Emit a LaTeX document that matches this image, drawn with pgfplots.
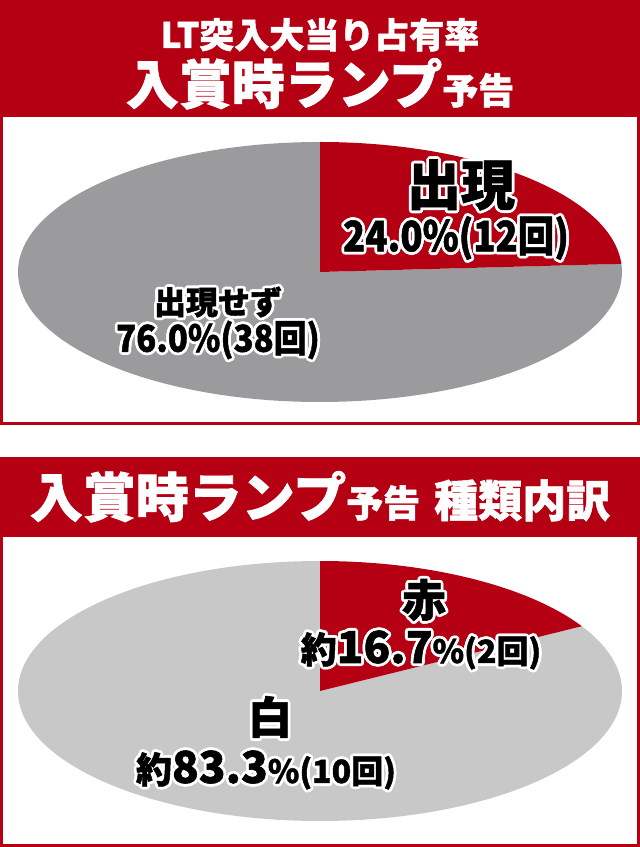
\documentclass[border=0pt]{standalone}
\usepackage{pgfplots}
\pgfplotsset{compat=1.18}
\usepackage{pgfplotstable}
\usepackage{fontspec}
\setmainfont{Noto Sans CJK JP}[BoldFeatures={FakeBold=1.3}]

\definecolor{crimson}{HTML}{B50014}
\definecolor{piegray}{HTML}{9B9B9D}
\definecolor{pielight}{HTML}{C8C8C8}

% share of each slice, in percent
\pgfplotstableread{
slice value
hit   24.0
miss  76.0
}\toppie
\pgfplotstableread{
slice value
red   16.7
white 83.3
}\botpie

% black text with a white outline
\newcommand{\olabel}[2]{%
  \foreach \a in {0,30,...,330}{\node[white,inner sep=0] at ([shift={(\a:2.8pt)}]#1) {#2};}
  \node[black,inner sep=0] at (#1) {#2};}
\newcommand{\fs}[1]{\fontsize{#1}{#1}\selectfont}

\begin{document}
\begin{tikzpicture}[x=1pt,y=1pt]
\useasboundingbox (0,0) rectangle (640,847);

% panels
\fill[crimson] (0,730) rectangle (640,847);
\draw[crimson, line width=3pt] (1.5,423) rectangle (638.5,731);
\fill[crimson] (0,310) rectangle (640,390);
\draw[crimson, line width=3pt] (1.5,1.5) rectangle (638.5,311);

% top pie
\pgfplotstablegetelem{0}{value}\of\toppie
\pgfmathsetmacro\topA{90-3.6*\pgfplotsretval}
\pgfmathsetmacro\topB{\topA+360}
\begin{axis}[at={(320pt,575pt)}, anchor=center, hide axis, scale only axis,
    width=604pt, height=260pt, xmin=-1, xmax=1, ymin=-1, ymax=1, clip=false]
  \fill[piegray] (axis cs:0,0) -- (axis cs:0,1)
    arc[start angle=90, end angle=\topB, x radius=1, y radius=1] -- cycle;
  \fill[crimson] (axis cs:0,0) -- (axis cs:0,1)
    arc[start angle=90, end angle=\topA, x radius=1, y radius=1] -- cycle;
\end{axis}

% bottom pie
\pgfplotstablegetelem{0}{value}\of\botpie
\pgfmathsetmacro\botA{90-3.6*\pgfplotsretval}
\pgfmathsetmacro\botB{\botA+360}
\begin{axis}[at={(320pt,156pt)}, anchor=center, hide axis, scale only axis,
    width=604pt, height=260pt, xmin=-1, xmax=1, ymin=-1, ymax=1, clip=false]
  \fill[pielight] (axis cs:0,0) -- (axis cs:0,1)
    arc[start angle=90, end angle=\botB, x radius=1, y radius=1] -- cycle;
  \fill[crimson] (axis cs:0,0) -- (axis cs:0,1)
    arc[start angle=90, end angle=\botA, x radius=1, y radius=1] -- cycle;
\end{axis}

% headers
\node[white, anchor=base] at (320,799) {\fs{35}\bfseries LT突入大当り占有率};
\node[white, anchor=base] at (320,743) {\fs{53}\bfseries 入賞時ランプ\fs{36}予告};
\node[white, anchor=base] at (320,330) {\fs{53}\bfseries 入賞時ランプ\fs{37}予告\hspace{14pt}\fs{44}種類内訳};

% slice labels
\olabel{461,662}{\fs{54}\bfseries 出現}
\olabel{456,609}{\scalebox{0.87}[1]{\fs{42}\bfseries 24.0\%(12回)}}
\olabel{218,545}{\fs{32}\bfseries 出現せず}
\olabel{218,507}{\scalebox{0.89}[1]{\fs{37}\bfseries 76.0\%(38回)}}
\olabel{424,247}{\fs{44}\bfseries 赤}
\olabel{421,197}{\bfseries\fs{36}約\fs{44}16.7\fs{32}\%(2回)}
\olabel{270,130}{\fs{44}\bfseries 白}
\olabel{266,77}{\bfseries\fs{36}約\fs{44}83.3\fs{32}\%(10回)}
\end{tikzpicture}
\end{document}
